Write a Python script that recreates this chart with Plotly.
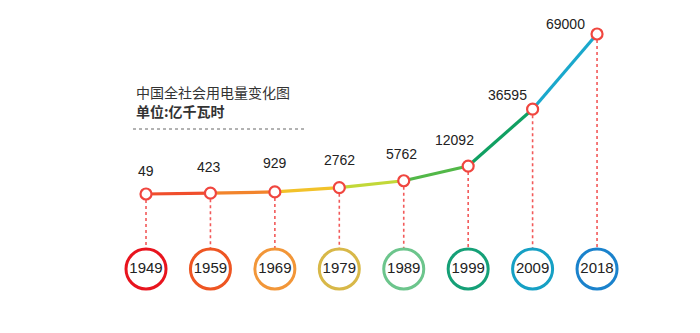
import plotly.graph_objects as go

# 全社会用电量（亿千瓦时）
years = ["1949", "1959", "1969", "1979", "1989", "1999", "2009", "2018"]
consumption = [49, 423, 929, 2762, 5762, 12092, 36595, 69000]

# colours
segment_colors = ["#f04e2c", "#f2842c", "#f2c22a", "#c2d838", "#52b848", "#10a062", "#1aa8cc"]
ring_colors = ["#e8141e", "#ee5522", "#f29638", "#d8b848", "#6cc58c", "#15a077", "#16a0c4", "#1a82cc"]
# label offsets (px) relative to each point
label_dx = [0, -1, 0, 0, -2, -14, -25, -32]
label_dy = [23, 26, 29, 28, 27, 26, 14, 10]

xs = list(range(len(years)))

# axis ranges chosen so the chart fills the 700x333 canvas
X_RANGE = [-2.266, 8.598]
Y_RANGE = [-59855, 83650]
RING_Y = -32270      # centre line of the year rings
RING_TOP = -23500    # where the dotted drop lines stop

fig = go.Figure()

# dotted drop lines
for i, v in zip(xs, consumption):
    fig.add_trace(go.Scatter(
        x=[i, i], y=[v, RING_TOP], mode="lines",
        line=dict(color="#f25a5a", width=1.6, dash="dot"),
        hoverinfo="skip", showlegend=False))

# coloured line segments
for k in range(len(xs) - 1):
    fig.add_trace(go.Scatter(
        x=[xs[k], xs[k + 1]], y=[consumption[k], consumption[k + 1]],
        mode="lines", line=dict(color=segment_colors[k], width=3.2),
        hoverinfo="skip", showlegend=False))

# data points
fig.add_trace(go.Scatter(
    x=xs, y=consumption, mode="markers",
    marker=dict(size=11, color="white", line=dict(color="#f0463f", width=2.2)),
    showlegend=False))

# year rings
fig.add_trace(go.Scatter(
    x=xs, y=[RING_Y] * len(xs), mode="markers+text",
    marker=dict(size=40, color="white", line=dict(color=ring_colors, width=3)),
    text=years, textposition="middle center",
    textfont=dict(family="Liberation Sans, Arial, sans-serif", size=15, color="#222222"),
    showlegend=False))

# value labels
for i, v, dx, dy in zip(xs, consumption, label_dx, label_dy):
    fig.add_annotation(
        x=i, y=v, text=str(v), showarrow=False, xshift=dx, yshift=dy,
        font=dict(family="Liberation Sans, Arial, sans-serif", size=14, color="#222222"))

# title block
fig.add_annotation(
    x=134 / 700, y=1 - 92 / 333, xref="paper", yref="paper", xanchor="left", yanchor="middle",
    text="中国全社会用电量变化图", showarrow=False,
    font=dict(family="Noto Sans CJK SC", size=14, color="#333333"))
fig.add_annotation(
    x=134 / 700, y=1 - 111 / 333, xref="paper", yref="paper", xanchor="left", yanchor="middle",
    text="<b>单位:亿千瓦时</b>", showarrow=False,
    font=dict(family="Noto Sans CJK SC", size=14, color="#333333"))
fig.add_shape(
    type="line", xref="paper", yref="paper",
    x0=133 / 700, x1=305 / 700, y0=1 - 129 / 333, y1=1 - 129 / 333,
    line=dict(color="#666666", width=1, dash="dot"))

fig.update_layout(
    width=700, height=333,
    margin=dict(l=0, r=0, t=0, b=0),
    paper_bgcolor="white", plot_bgcolor="white",
    xaxis=dict(range=X_RANGE, visible=False, fixedrange=True),
    yaxis=dict(range=Y_RANGE, visible=False, fixedrange=True),
    hovermode=False,
)

fig.write_html("out.html", config={"displayModeBar": False})
